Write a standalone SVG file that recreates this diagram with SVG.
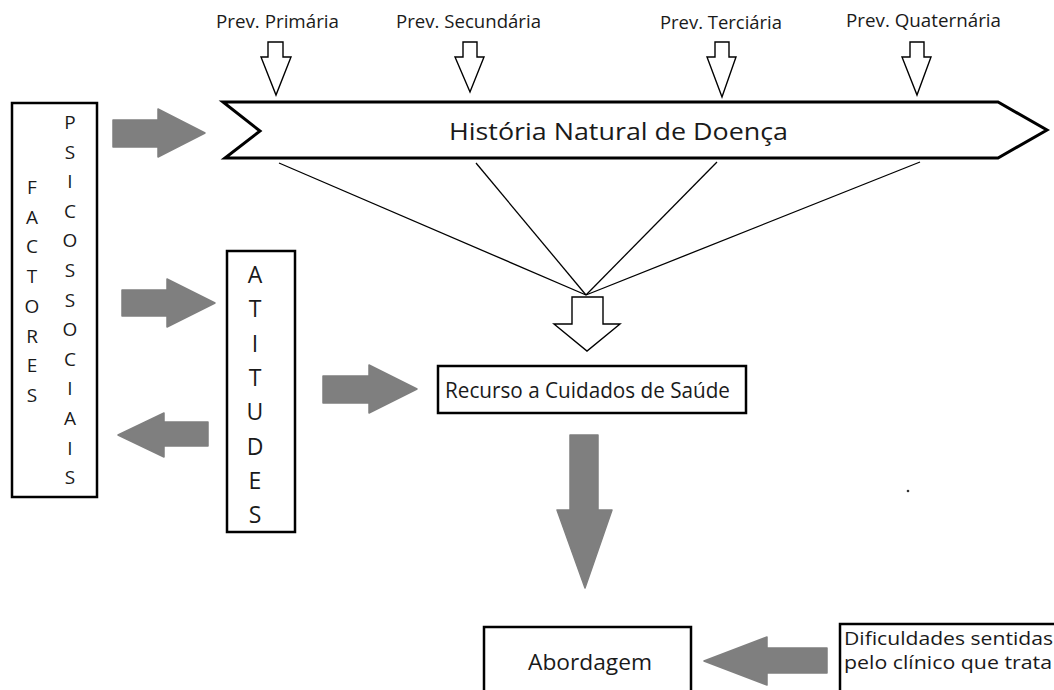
<svg xmlns="http://www.w3.org/2000/svg" width="1054" height="690" viewBox="0 0 1054 690">
<style>
text{font-family:"Open Sans","Noto Sans","Liberation Sans",sans-serif;fill:#1a1a1a}
.box{fill:#fff;stroke:#000;stroke-width:2.5}
.gray{fill:#7f7f7f;stroke:#7f7f7f;stroke-width:1.5;stroke-linejoin:round}
.hollow{fill:#fff;stroke:#000;stroke-width:1.4;stroke-linejoin:miter}
.line{stroke:#000;stroke-width:1.3;fill:none}
.prev{font-size:18px}
.v1{font-size:19px;text-anchor:middle}
.v2{font-size:23px;text-anchor:middle}
.lbl{font-size:21px}
.lbl2{font-size:19px}
</style>
<rect width="1054" height="690" fill="#fff"/>

<g id="connectors">
<line class="line" x1="279" y1="163" x2="586" y2="295"/>
<line class="line" x1="476" y1="163" x2="586" y2="295"/>
<line class="line" x1="717" y1="162" x2="586" y2="295"/>
<line class="line" x1="920" y1="162" x2="586" y2="295"/>
<polygon class="hollow" points="268,42 283,42 283,57 291,57 276,95 261,57 268,57"/>
<polygon class="hollow" points="463,42 477,42 477,57 484,57 470,92 455,57 463,57"/>
<polygon class="hollow" points="715,42 729,42 729,57 736,57 722,97 707,57 715,57"/>
<polygon class="hollow" points="910,42 924,42 924,57 931,57 917,95 902,57 910,57"/>
<polygon class="hollow" points="572,297 603,297 603,324 620,324 587,351 554,324 572,324"/>
<polygon class="gray" points="113,120 158,120 158,109 205,133 158,157 158,147 113,147"/>
<polygon class="gray" points="122,290 167,290 167,279 215,303 167,327 167,316 122,316"/>
<polygon class="gray" points="208,422 164,422 164,413 118,435 164,457 164,446 208,446"/>
<polygon class="gray" points="323,376 369,376 369,365 417,389 369,413 369,403 323,403"/>
<polygon class="gray" points="570,435 598,435 598,510 612,510 585,588 557,510 570,510"/>
<polygon class="gray" points="827,648 767,648 767,637 704,661 767,685 767,673 827,673"/>
</g>

<g id="prev-labels">
<text class="prev" x="216" y="28" textLength="123" lengthAdjust="spacingAndGlyphs">Prev. Primária</text>
<text class="prev" x="396" y="28" textLength="145" lengthAdjust="spacingAndGlyphs">Prev. Secundária</text>
<text class="prev" x="660" y="29" textLength="122" lengthAdjust="spacingAndGlyphs">Prev. Terciária</text>
<text class="prev" x="846" y="27" textLength="155" lengthAdjust="spacingAndGlyphs">Prev. Quaternária</text>
</g>

<g id="historia">
<polygon points="223,102 998,102 1047,130 998,158 225,158 260,131" fill="#fff" stroke="#000" stroke-width="3"/>
<text x="449" y="140" font-size="24" textLength="339" lengthAdjust="spacingAndGlyphs">História Natural de Doença</text>
</g>

<g id="factores">
<rect class="box" x="12" y="103" width="85" height="394"/>
<text class="v1" x="32" y="194">F</text>
<text class="v1" x="32" y="223.7">A</text>
<text class="v1" x="32" y="253.4">C</text>
<text class="v1" x="32" y="283.1">T</text>
<text class="v1" x="32" y="312.8">O</text>
<text class="v1" x="32" y="342.5">R</text>
<text class="v1" x="32" y="372.2">E</text>
<text class="v1" x="32" y="401.9">S</text>
<text class="v1" x="70" y="129">P</text>
<text class="v1" x="70" y="158.6">S</text>
<text class="v1" x="70" y="188.2">I</text>
<text class="v1" x="70" y="217.8">C</text>
<text class="v1" x="70" y="247.4">O</text>
<text class="v1" x="70" y="277">S</text>
<text class="v1" x="70" y="306.6">S</text>
<text class="v1" x="70" y="336.2">O</text>
<text class="v1" x="70" y="365.8">C</text>
<text class="v1" x="70" y="395.4">I</text>
<text class="v1" x="70" y="425">A</text>
<text class="v1" x="70" y="454.6">I</text>
<text class="v1" x="70" y="484.2">S</text>
</g>

<g id="atitudes">
<rect class="box" x="227" y="251" width="68" height="281"/>
<text class="v2" x="255" y="283">A</text>
<text class="v2" x="255" y="317.3">T</text>
<text class="v2" x="255" y="351.6">I</text>
<text class="v2" x="255" y="385.9">T</text>
<text class="v2" x="255" y="420.2">U</text>
<text class="v2" x="255" y="454.5">D</text>
<text class="v2" x="255" y="488.8">E</text>
<text class="v2" x="255" y="523.1">S</text>
</g>

<g id="recurso">
<rect class="box" x="438" y="366" width="308" height="47"/>
<text class="lbl" x="445" y="398" textLength="285" lengthAdjust="spacingAndGlyphs">Recurso a Cuidados de Saúde</text>
</g>

<g id="abordagem">
<rect class="box" x="484" y="627" width="207" height="80"/>
<text class="lbl" x="528" y="670" textLength="124" lengthAdjust="spacingAndGlyphs">Abordagem</text>
</g>

<g id="dificuldades">
<rect class="box" x="840" y="624" width="230" height="80"/>
<text class="lbl2" x="844" y="645" textLength="209" lengthAdjust="spacingAndGlyphs">Dificuldades sentidas</text>
<text class="lbl2" x="844" y="669" textLength="208" lengthAdjust="spacingAndGlyphs">pelo clínico que trata</text>
</g>

<circle cx="908" cy="491" r="1.3" fill="#333"/>
</svg>
